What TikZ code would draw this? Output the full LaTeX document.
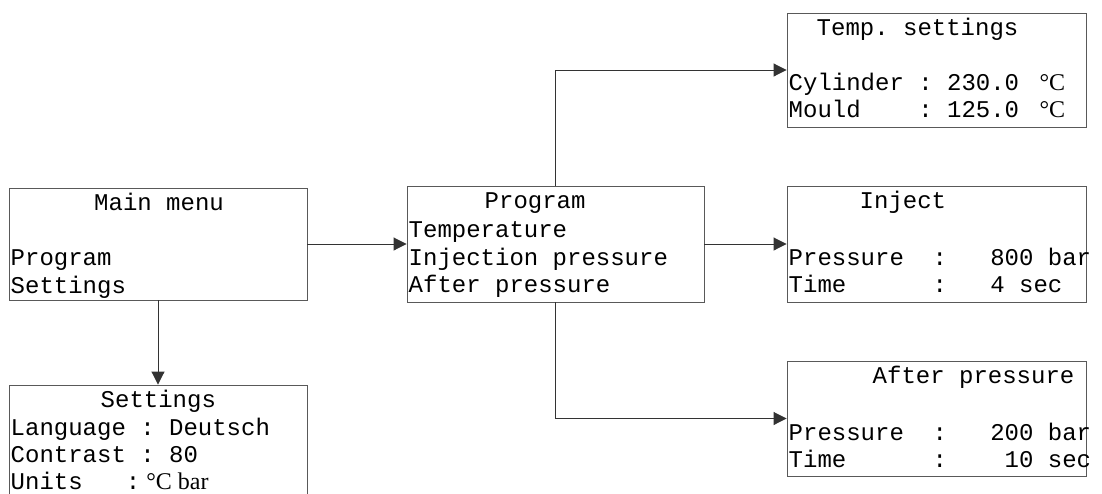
\documentclass[tikz,border=0pt]{standalone}
\usepackage{fontspec}
\setmonofont{Liberation Mono}
\newfontfamily\degfont{Liberation Serif}
\usetikzlibrary{arrows.meta}
\begin{document}
\begin{tikzpicture}[x=1pt,y=-1pt,
  box/.style={draw=black!65, line width=0.9pt, fill=none, inner sep=0pt, anchor=center},
  txt/.style={anchor=base west, inner sep=0pt, font=\ttfamily\fontsize{24}{28}\selectfont},
  arr/.style={draw=black!80, line width=0.9pt, -{Triangle[length=13pt,width=13pt]}}]
\useasboundingbox (0,0) rectangle (1102,493);
\fill[white] (0,0) rectangle (1102,493);
% boxes
\node[box, minimum width=298pt, minimum height=112pt] (main) at (158,244) {};
\node[box, minimum width=298pt, minimum height=120pt] (sett) at (158,445) {};
\node[box, minimum width=297pt, minimum height=116pt] (prog) at (555.5,244) {};
\node[box, minimum width=299pt, minimum height=114pt] (temp) at (936.5,70) {};
\node[box, minimum width=299pt, minimum height=116pt] (inj) at (936.5,244) {};
\node[box, minimum width=299pt, minimum height=115pt] (after) at (936.5,418.5) {};
% main menu
\node[txt] (mainT) at (94,210) {Main menu};
\node[txt] (mainA) at (10.5,265) {Program};
\node[txt] (mainB) at (10.5,293) {Settings};
% settings
\node[txt] (setT) at (100.5,407) {Settings};
\node[txt] (setA) at (10.5,435) {Language~:~Deutsch};
\node[txt] (setB) at (10.5,462) {Contrast~:~80};
\node[txt] (setC) at (10.5,489) {Units~~~:{\degfont~°C bar}};
% program
\node[txt] (progT) at (484.5,208) {Program};
\node[txt] (progA) at (408.5,237) {Temperature};
\node[txt] (progB) at (408.5,265) {Injection pressure};
\node[txt] (progC) at (408.5,292) {After pressure};
% temp settings
\node[txt] (tempT) at (816.5,35) {Temp. settings};
\node[txt] (tempA) at (788.5,90) {Cylinder~:~230.0~{\degfont~°C}};
\node[txt] (tempB) at (788.5,117) {Mould~~~~:~125.0~{\degfont~°C}};
% inject
\node[txt] (injT) at (859.5,208) {Inject};
\node[txt] (injA) at (788.5,265) {Pressure~~:~~~800~bar};
\node[txt] (injB) at (788.5,292) {Time~~~~~~:~~~4~sec};
% after pressure
\node[txt] (aftT) at (872.5,383) {After pressure};
\node[txt] (aftA) at (788.5,440) {Pressure~~:~~~200~bar};
\node[txt] (aftB) at (788.5,467) {Time~~~~~~:~~~~10~sec};
% connectors
\draw[arr] (main.east) -- (prog.west);
\draw[arr] (main.south) -- (sett.north);
\draw[arr] (prog.north) |- (temp.west);
\draw[arr] (prog.east) -- (inj.west);
\draw[arr] (prog.south) |- (after.west);
\end{tikzpicture}
\end{document}
